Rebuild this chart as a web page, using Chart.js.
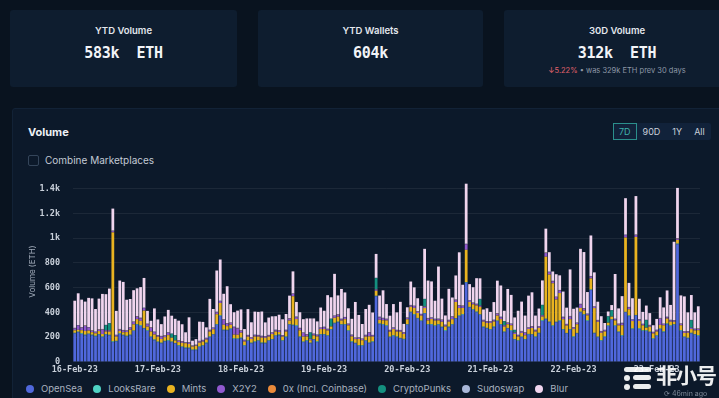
<!DOCTYPE html>
<html>
<head>
<meta charset="utf-8">
<title>Volume</title>
<script src="https://cdn.jsdelivr.net/npm/chart.js@4.4.1/dist/chart.umd.min.js"></script>
<style>
  html, body { margin: 0; padding: 0; }
  body {
    width: 719px; height: 398px; overflow: hidden; position: relative;
    background: #09131f; font-family: Inter, "Noto Sans", sans-serif;
  }
  .card { position: absolute; top: 10px; height: 77px; background: #0e1d2f; border-radius: 3px; }
  .card .t { position: absolute; left: 0; right: 0; top: 15px; line-height: 12px; text-align: center;
             font-size: 9.5px; font-weight: 600; color: #e3e7ed; }
  .card .v { position: absolute; left: 0; right: 0; top: 34px; line-height: 18px; text-align: center;
             font-family: "DejaVu Sans Mono", monospace; font-size: 15px; font-weight: bold; color: #f2f4f7;
             letter-spacing: -0.3px; white-space: pre; }
  .card .s { position: absolute; left: 0; right: 0; top: 56px; line-height: 10px; text-align: center;
             font-size: 7.5px; color: #8d97a6; }
  .card .s .down { color: #e0626c; }

  #panel { position: absolute; left: 12px; top: 108px; width: 720px; height: 300px;
           background: #0c192a; border: 1px solid #122236; border-radius: 3px; }
  #title { position: absolute; left: 28px; top: 125px; font-size: 11px; font-weight: 700; color: #eef1f5; line-height: 14px; }
  #combine { position: absolute; left: 28px; top: 154px; height: 12px; line-height: 12px; font-size: 10px; color: #c3cad5; }
  #combine .box { display: inline-block; width: 9px; height: 9px; border: 1px solid #34455a; border-radius: 2px;
                  vertical-align: -2px; margin-right: 6px; }
  #ranges { position: absolute; left: 613px; top: 123px; height: 17px; display: flex; background: #11223a; border-radius: 2px; }
  #ranges span { display: block; height: 15px; line-height: 15px; padding: 0 5px; font-size: 9px; color: #c9d0da; border: 1px solid transparent; }
  #ranges span.on { border-color: #2b8f8c; color: #3fb1aa; }

  #wrap { position: absolute; left: 12px; top: 163px; width: 700px; height: 217px; }
  #legend { position: absolute; left: 26px; top: 383px; display: flex; font-size: 9.5px; color: #a8b1bf; line-height: 12px; }
  #legend .item { display: flex; align-items: center; margin-right: 11px; white-space: nowrap; }
  #legend .dot { width: 8px; height: 8px; border-radius: 50%; margin-right: 7px; }

  #mark { position: absolute; left: 656px; top: 361px; font-family: "Noto Sans CJK SC", sans-serif; font-size: 21px;
          font-weight: 700; color: rgba(255,255,255,0.92); line-height: 26px; letter-spacing: -1px; }
  .logo { position: absolute; background: rgba(255,255,255,0.92); border-radius: 3px; }
  #ago { position: absolute; left: 664px; top: 389px; font-size: 7px; color: #7f8a99; line-height: 9px; }
</style>
</head>
<body>

<div class="card" style="left:10px;width:227px;">
  <div class="t">YTD Volume</div>
  <div class="v">583k  ETH</div>
</div>
<div class="card" style="left:258px;width:225px;">
  <div class="t">YTD Wallets</div>
  <div class="v">604k</div>
</div>
<div class="card" style="left:504px;width:226px;">
  <div class="t">30D Volume</div>
  <div class="v">312k  ETH</div>
  <div class="s"><span class="down">↓5.22%</span> • was 329k ETH prev 30 days</div>
</div>

<div id="panel"></div>
<div id="title">Volume</div>
<div id="combine"><span class="box"></span>Combine Marketplaces</div>
<div id="ranges"><span class="on">7D</span><span>90D</span><span>1Y</span><span>All</span></div>

<div id="wrap"><canvas id="volumeChart"></canvas></div>
<div id="legend"></div>

<div class="logo" style="left:624px;top:367px;width:27px;height:5px;"></div>
<div class="logo" style="left:624px;top:375px;width:6px;height:6px;border-radius:50%;"></div>
<div class="logo" style="left:633px;top:375px;width:18px;height:5px;"></div>
<div class="logo" style="left:624px;top:384px;width:6px;height:6px;border-radius:50%;"></div>
<div class="logo" style="left:633px;top:384px;width:18px;height:5px;"></div>
<div id="mark">非小号</div>
<div id="ago">⟳ 46min ago</div>

<script>
// ===== Data (hourly, 16-Feb-23 00:00 .. 23-Feb-23 12:00) =====
const days = ["16-Feb-23", "17-Feb-23", "18-Feb-23", "19-Feb-23", "20-Feb-23", "21-Feb-23", "22-Feb-23", "23-Feb-23"];

const openSea = [
  230,240,225,215,225,215,205,220,200,220,215,160,165,225,215,205,215,250,300,290,270,250,200,175,
  160,150,165,170,160,150,130,120,110,110,95,95,120,130,150,200,220,300,370,255,255,265,185,185,
  190,130,170,150,160,170,150,150,170,180,210,215,170,200,300,295,290,200,160,170,150,180,160,220,
  220,210,260,310,320,300,300,250,160,150,130,130,170,150,160,530,305,300,290,200,210,200,190,180,
  300,400,380,350,330,390,300,300,290,300,280,250,280,300,350,370,380,640,440,420,400,380,280,270,
  260,280,330,300,240,270,250,180,170,200,180,220,220,200,230,330,345,320,290,320,330,260,230,260,
  200,230,400,380,330,580,230,200,170,200,290,340,290,240,210,400,370,265,375,265,250,250,240,185,
  210,265,240,305,290,300,950,250,200,190,230,220,210
];
const looksRare = [
  5,4,6,5,3,5,6,4,5,5,4,6,5,5,4,6,5,3,5,6,4,5,5,6,
  4,5,5,6,4,3,5,4,6,5,4,5,5,4,6,5,4,5,6,5,4,5,5,4,
  6,5,4,5,5,4,6,5,4,5,5,6,4,5,4,5,6,5,4,5,5,4,6,5,
  5,4,5,6,5,4,5,5,6,4,5,5,4,6,5,4,5,6,5,4,5,5,4,6,
  4,5,6,5,4,5,5,6,4,5,4,6,5,5,4,5,6,5,4,5,6,4,5,5,
  5,6,4,5,5,4,6,5,5,4,5,6,4,5,5,6,4,5,5,4,6,5,4,5,
  6,4,5,5,6,4,5,4,5,6,5,4,5,5,6,4,5,5,4,6,5,5,4,5,
  5,4,6,5,5,4,5,6,4,5,5,4,6
];
const mints = [
  20,15,25,30,25,20,20,25,20,20,25,880,35,20,20,30,40,50,40,35,140,30,40,40,
  40,30,30,40,30,20,25,30,35,30,25,30,30,30,25,40,40,80,100,40,30,30,30,30,
  40,30,30,30,40,30,40,40,30,40,30,20,30,40,30,230,50,50,40,30,20,30,40,40,
  40,40,20,40,40,30,40,40,40,30,50,40,30,50,40,40,30,30,40,40,50,40,50,40,
  40,40,50,40,40,40,30,40,40,30,40,30,40,40,130,60,50,260,40,40,50,60,40,40,
  50,40,40,40,40,30,40,40,30,30,30,40,50,40,40,30,500,380,340,180,220,80,60,80,
  60,70,30,30,40,90,200,120,60,40,20,20,40,50,80,600,50,60,630,60,40,20,40,40,
  30,30,50,40,30,20,30,40,30,40,30,30,40
];
const x2y2 = [
  15,35,20,40,25,10,10,10,35,10,10,10,10,10,15,10,15,20,20,20,20,20,30,20,
  10,20,10,20,0,0,10,10,5,10,5,5,10,10,10,10,10,15,15,40,20,15,60,50,
  15,10,10,10,10,10,10,10,10,10,10,10,10,10,15,20,15,15,30,15,10,10,10,10,
  15,10,0,15,15,10,15,10,10,10,10,10,10,30,10,10,20,15,10,10,10,10,10,10,
  10,10,15,10,10,10,15,10,10,10,15,10,10,20,15,20,15,45,10,10,10,10,10,10,
  10,10,15,15,10,10,10,10,10,10,20,10,10,10,10,10,30,20,15,20,20,15,10,20,
  10,10,30,15,10,15,10,10,10,10,0,0,10,10,15,20,15,10,15,10,10,0,10,10,
  10,50,10,10,10,10,10,10,10,10,10,10,10
];
const zeroX = [
  2,1,2,2,1,2,1,2,2,1,2,2,1,2,2,1,2,1,2,2,1,2,2,1,
  1,2,2,1,2,1,2,2,1,2,1,2,2,1,2,2,1,2,1,2,2,1,2,2,
  2,1,2,2,1,2,2,1,2,1,2,2,1,2,2,1,2,2,1,2,1,2,2,1,
  1,2,2,1,2,2,1,2,2,1,2,1,2,2,1,2,2,1,2,2,1,2,1,2,
  2,2,1,2,1,2,2,1,2,2,1,2,2,1,2,1,2,2,1,2,2,1,2,2,
  1,2,2,1,2,2,1,2,1,2,2,1,2,2,1,2,2,1,2,1,2,2,1,2,
  2,1,2,2,1,2,1,2,2,1,2,2,1,2,2,1,2,1,2,2,1,2,2,1,
  2,2,1,2,2,1,2,2,1,2,1,2,2
];
const cryptoPunks = [
  0,0,0,0,0,0,0,0,0,40,55,0,0,0,0,0,0,0,0,0,0,0,0,0,
  0,0,0,0,30,40,0,0,0,0,0,0,0,0,0,0,0,0,0,0,0,0,0,0,
  0,0,0,0,0,0,0,0,0,0,0,0,0,0,0,0,0,0,0,0,50,0,0,0,
  0,0,60,0,0,0,0,0,0,0,0,0,0,0,0,90,0,0,0,0,0,0,0,0,
  0,0,0,0,0,60,0,0,0,0,0,0,0,0,0,0,0,0,0,0,0,50,0,0,
  0,0,0,0,30,0,0,20,0,0,0,0,0,0,0,80,0,0,0,0,0,0,0,0,
  0,0,0,0,0,0,0,0,0,0,50,50,0,0,0,0,0,0,0,0,0,60,0,0,
  0,0,0,0,0,0,0,0,0,0,60,0,0
];
const sudoswap = [
  3,2,3,4,2,3,3,2,4,3,2,3,3,4,2,3,3,2,3,4,3,2,3,3,
  2,3,3,2,4,3,3,2,3,3,4,2,3,3,2,3,4,3,2,3,3,2,3,4,
  3,3,2,3,4,2,3,3,2,3,3,4,2,3,3,2,4,3,3,2,3,3,4,2,
  3,2,3,3,4,3,2,3,3,2,3,4,3,3,2,3,3,4,2,3,3,2,3,3,
  4,3,2,3,3,2,3,4,3,3,2,3,3,2,4,3,3,2,3,3,2,4,3,3,
  2,3,3,4,2,3,3,2,3,4,3,2,3,3,2,3,4,3,3,2,3,3,2,4,
  3,3,2,3,4,3,2,3,3,2,4,3,3,2,3,3,2,4,3,3,2,3,3,2,
  3,4,2,3,3,2,3,3,4,2,3,3,2
];
const blur = [
  219,257,222,191,236,258,182,248,283,248,279,177,193,391,388,247,228,253,224,247,240,103,52,187,
  126,95,152,181,143,131,158,136,79,200,37,45,155,145,84,249,148,333,333,205,297,148,116,139,
  168,86,208,120,186,186,196,110,140,129,109,124,127,127,181,178,117,126,107,127,112,122,105,161,
  129,271,172,336,151,240,198,123,127,287,179,116,208,220,181,193,171,222,118,114,188,141,227,66,
  81,189,148,104,65,404,302,289,145,420,169,74,250,152,193,426,167,485,130,123,206,166,83,103,
  76,142,262,252,84,270,231,100,194,237,134,256,273,114,143,197,191,157,75,181,118,203,131,376,
  148,121,444,452,173,327,275,147,119,55,36,40,361,123,215,294,194,169,310,164,96,115,95,53,
  87,167,131,212,120,633,405,226,280,151,201,131,179
];

// one label per hour, the axis only shows the midnight ones
const categories = [];
days.forEach(d => {
  for (let h = 0; h < 24 && categories.length < openSea.length; h++) {
    categories.push(d + " " + String(h).padStart(2, "0") + ":00");
  }
});

const series = [
  { label: "OpenSea", data: openSea, color: "#5068dc" },
  { label: "LooksRare", data: looksRare, color: "#4fd3c4" },
  { label: "Mints", data: mints, color: "#e9b320" },
  { label: "X2Y2", data: x2y2, color: "#9159cf" },
  { label: "0x (Incl. Coinbase)", data: zeroX, color: "#ea8a3a" },
  { label: "CryptoPunks", data: cryptoPunks, color: "#14907f" },
  { label: "Sudoswap", data: sudoswap, color: "#a9b7d8" },
  { label: "Blur", data: blur, color: "#f0d5ee" }
];

document.addEventListener("DOMContentLoaded", () => {
  const monoFont = { family: "'DejaVu Sans Mono', monospace", size: 8.5, weight: "bold" };

  const chart = new Chart(document.getElementById("volumeChart"), {
    type: "bar",
    data: {
      labels: categories,
      datasets: series.map(s => ({
        label: s.label,
        data: s.data,
        backgroundColor: s.color,
        borderWidth: 0,
        barPercentage: 0.8,
        categoryPercentage: 1.0
      }))
    },
    options: {
      responsive: true,
      maintainAspectRatio: false,
      animation: false,
      layout: { padding: { top: 7, right: 12, left: 0, bottom: 0 } },
      plugins: { legend: { display: false }, tooltip: { enabled: false } },
      scales: {
        x: {
          stacked: true,
          grid: { display: false, drawTicks: false },
          border: { display: false },
          ticks: {
            autoSkip: false, maxRotation: 0, minRotation: 0, padding: 3,
            color: "#c9d0da", font: monoFont,
            callback: function (value) {
              const lbl = this.getLabelForValue(value);
              return lbl.endsWith(" 00:00") ? lbl.slice(0, 9) : null;
            }
          },
          afterFit: (scale) => { scale.height = 18; }
        },
        y: {
          stacked: true,
          min: 0,
          max: 1460,
          grid: { color: "rgba(255,255,255,0.065)", drawTicks: false },
          border: { display: false },
          ticks: {
            stepSize: 200, includeBounds: false, padding: 13, color: "#c9d0da", font: monoFont,
            callback: (v) => v >= 1000 ? (v / 1000) + "k" : v
          },
          afterBuildTicks: (scale) => { scale.ticks = scale.ticks.filter(t => t.value % 200 === 0); },
          afterFit: (scale) => { scale.width = 61; },
          title: {
            display: true, text: "Volume (ETH)", color: "#a3adbb",
            font: { family: "Inter, sans-serif", size: 8 }, padding: { top: 16, bottom: 0 }
          }
        }
      }
    }
  });

  // ===== Legend =====
  const legend = document.getElementById("legend");
  chart.data.datasets.forEach(ds => {
    const item = document.createElement("div");
    item.className = "item";
    const dot = document.createElement("span");
    dot.className = "dot";
    dot.style.background = ds.backgroundColor;
    item.appendChild(dot);
    item.appendChild(document.createTextNode(ds.label));
    legend.appendChild(item);
  });
});
</script>
</body>
</html>
